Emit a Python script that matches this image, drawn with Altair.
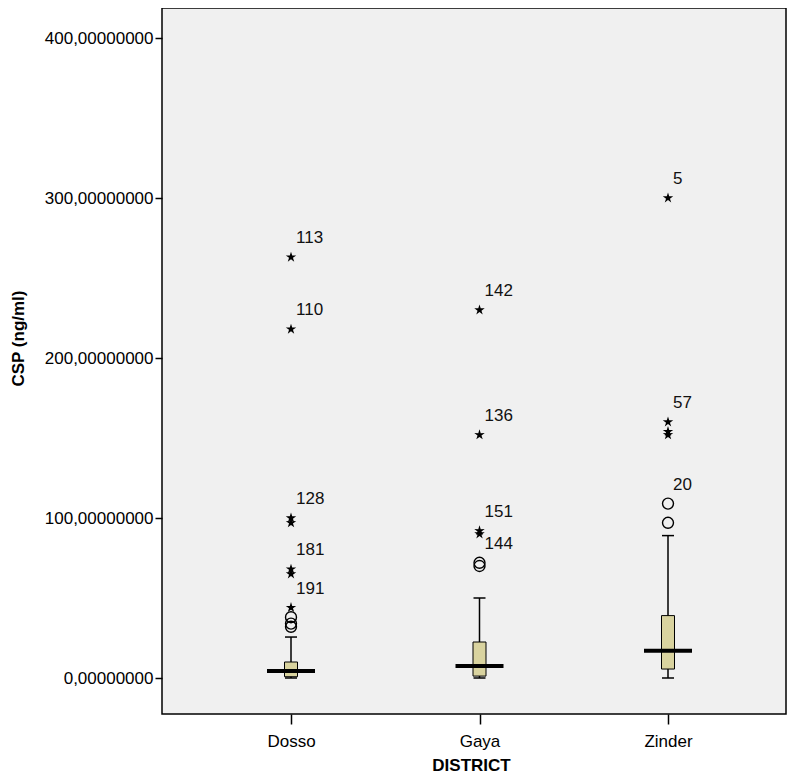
import altair as alt
import pandas as pd

# ---- data ----
districts = ["Dosso", "Gaya", "Zinder"]
whisker_low = [0.0, 0.0, 0.0]
box_q1 = [0.8, 1.2, 5.6]
box_median = [4.4, 7.5, 17.0]
box_q3 = [10.0, 22.5, 39.0]
whisker_high = [25.6, 50.0, 89.0]

circle_district = ["Dosso", "Dosso", "Dosso", "Gaya", "Gaya", "Zinder", "Zinder"]
circle_value = [38.0, 34.0, 32.0, 72.0, 70.0, 109.0, 97.0]

star_district = ["Dosso", "Dosso", "Dosso", "Dosso", "Dosso", "Dosso", "Dosso",
                 "Gaya", "Gaya", "Gaya", "Gaya",
                 "Zinder", "Zinder", "Zinder", "Zinder"]
star_value = [263.0, 218.0, 100.0, 97.0, 68.0, 65.0, 44.0,
              230.0, 152.0, 92.0, 90.0,
              300.0, 160.0, 154.0, 152.0]

label_district = ["Dosso", "Dosso", "Dosso", "Dosso", "Dosso",
                  "Gaya", "Gaya", "Gaya", "Zinder", "Zinder", "Zinder"]
label_value = [263.0, 218.0, 100.0, 68.0, 44.0, 230.0, 152.0, 92.0, 300.0, 160.0, 109.0]
label_text = ["113", "110", "128", "181", "191", "142", "136", "151", "5", "57", "20"]

below_label_district = ["Gaya"]
below_label_value = [90.0]
below_label_text = ["144"]

y_ticks = [0, 100, 200, 300, 400]

# ---- tables ----
box_df = pd.DataFrame({
    "district": districts, "lo": whisker_low, "q1": box_q1,
    "median": box_median, "q3": box_q3, "hi": whisker_high,
})
circle_df = pd.DataFrame({"district": circle_district, "value": circle_value})
star_df = pd.DataFrame({"district": star_district, "value": star_value})
label_df = pd.DataFrame({"district": label_district, "value": label_value, "label": label_text})
below_df = pd.DataFrame({"district": below_label_district, "value": below_label_value,
                         "label": below_label_text})

FONT = "Liberation Sans"
STAR = ("M0,-1L0.22,-0.30L0.951,-0.309L0.36,0.12L0.588,0.809L0,0.38"
        "L-0.588,0.809L-0.36,0.12L-0.951,-0.309L-0.22,-0.30Z")

x_enc = alt.X(
    "district:N",
    scale=alt.Scale(type="point", domain=districts, range=[129, 506], padding=0),
    axis=alt.Axis(
        title="DISTRICT", titleFont=FONT, titleFontSize=17, titleFontWeight="bold",
        titleColor="#000", titleX=309, titleY=51, titleBaseline="middle",
        labelFont=FONT, labelFontSize=17, labelColor="#000", labelAngle=0,
        labelPadding=9, tickSize=10, tickColor="#000", tickWidth=1.5,
        domain=False, grid=False,
    ),
)

y_scale = alt.Scale(domain=[-22.5, 418.75], nice=False, zero=False)
y_axis = alt.Axis(
    title="CSP (ng/ml)", titleFont=FONT, titleFontSize=17, titleFontWeight="bold",
    titleColor="#000", titleX=-144, titleY=330, titleAngle=270, titleBaseline="middle",
    titleAlign="center",
    values=y_ticks, labelExpr="replace(format(datum.value, '.8f'), '.', ',')",
    labelFont=FONT, labelFontSize=17, labelColor="#000",
    labelPadding=2, tickSize=7, tickColor="#000", tickWidth=1.5,
    domain=False, grid=False,
)

base_box = alt.Chart(box_df)

whisker = base_box.mark_rule(color="#000", strokeWidth=1.5).encode(
    x=x_enc,
    y=alt.Y("lo:Q", scale=y_scale, axis=y_axis),
    y2="hi:Q",
)
cap_hi = base_box.mark_tick(color="#000", size=12, thickness=1.5, opacity=1).encode(
    x=x_enc, y=alt.Y("hi:Q", scale=y_scale, axis=y_axis))
cap_lo = base_box.mark_tick(color="#000", size=12, thickness=1.5, opacity=1).encode(
    x=x_enc, y=alt.Y("lo:Q", scale=y_scale, axis=y_axis))
box = base_box.mark_bar(size=13, fill="#d9d39f", stroke="#000", strokeWidth=1,
                        opacity=1).encode(
    x=x_enc, y=alt.Y("q1:Q", scale=y_scale, axis=y_axis), y2="q3:Q")
median = base_box.mark_tick(color="#000", size=48, thickness=4, opacity=1).encode(
    x=x_enc, y=alt.Y("median:Q", scale=y_scale, axis=y_axis))

circles = alt.Chart(circle_df).mark_point(
    shape="circle", filled=False, color="#000", size=120, strokeWidth=1.4, opacity=1
).encode(x=x_enc, y=alt.Y("value:Q", scale=y_scale, axis=y_axis))

stars = alt.Chart(star_df).mark_point(
    shape=STAR, filled=True, color="#000", size=120, opacity=1
).encode(x=x_enc, y=alt.Y("value:Q", scale=y_scale, axis=y_axis))

labels = alt.Chart(label_df).mark_text(
    font=FONT, fontSize=17, color="#111", align="left", baseline="middle", dx=5, dy=-19
).encode(x=x_enc, y=alt.Y("value:Q", scale=y_scale, axis=y_axis), text="label:N")

labels_below = alt.Chart(below_df).mark_text(
    font=FONT, fontSize=17, color="#111", align="left", baseline="middle", dx=5, dy=10
).encode(x=x_enc, y=alt.Y("value:Q", scale=y_scale, axis=y_axis), text="label:N")

chart = alt.layer(
    whisker, cap_hi, cap_lo, box, median, circles, stars, labels, labels_below
).properties(
    width=624, height=706,
    autosize=alt.AutoSizeParams(type="none"),
    padding={"left": 154, "top": 0, "right": 2, "bottom": 59},
    background="#ffffff",
).configure_view(
    fill="#f0f0f0", stroke="#000", strokeWidth=1.5,
)

chart.save("out.html", embed_options={"renderer": "svg", "actions": False})
